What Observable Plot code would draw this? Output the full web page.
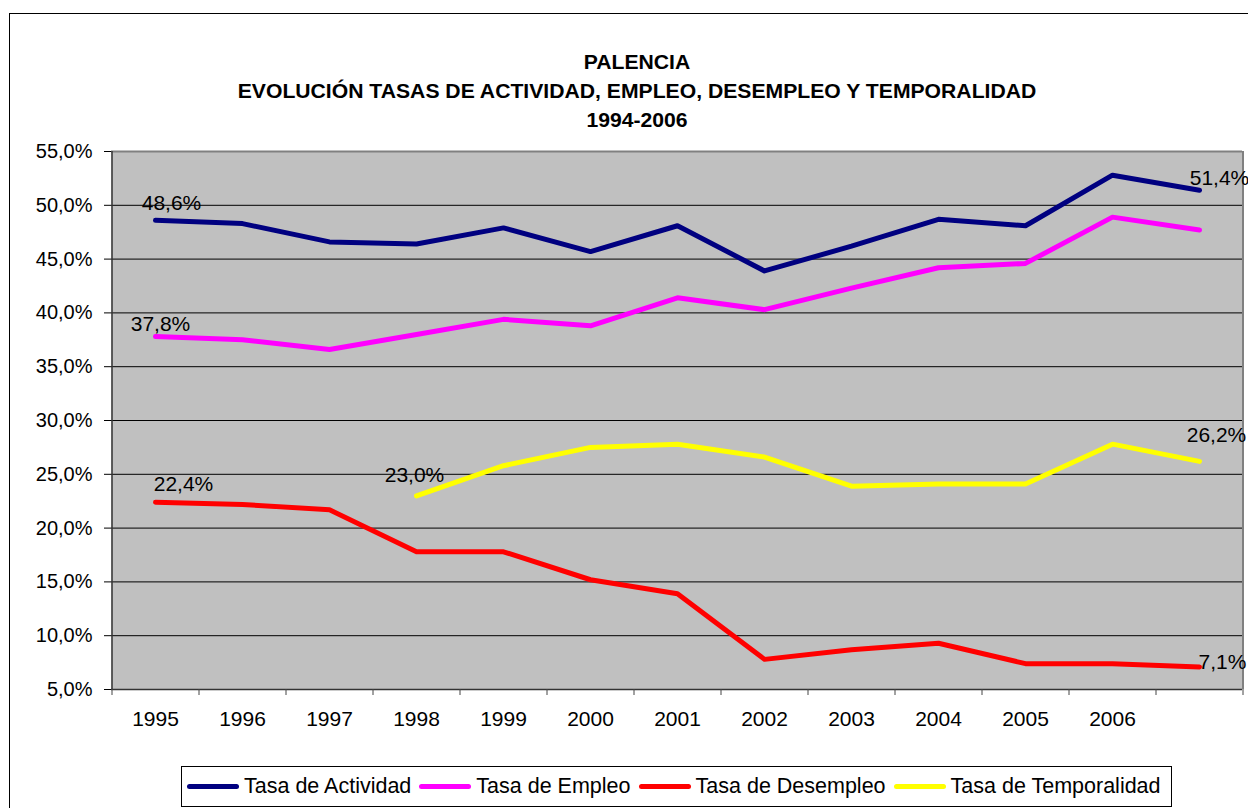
<!DOCTYPE html>
<html><head><meta charset="utf-8">
<script src="https://cdn.jsdelivr.net/npm/d3@7"></script>
<script src="https://cdn.jsdelivr.net/npm/@observablehq/plot@0.6"></script>
<style>
body{margin:0;background:#fff;font-family:"Liberation Sans",Arial,sans-serif;color:#000;}
#frame{position:absolute;left:9px;top:13px;width:1260px;height:820px;border:1px solid #000;box-sizing:border-box;}
#title{position:absolute;left:0;top:48px;width:1274px;text-align:center;font-weight:bold;font-size:19.5px;line-height:29px;transform:scaleX(1.085);transform-origin:637px 0;}
#chart{position:absolute;left:0;top:130px;}
#legend{position:absolute;left:181px;top:766px;width:991px;height:41px;border:1px solid #000;box-sizing:border-box;display:flex;align-items:center;padding-left:5px;font-size:21.5px;white-space:nowrap;}
.item{display:flex;align-items:center;margin-right:8px;}
.sw{width:52px;height:5px;border-radius:3px;margin-right:5px;}
</style></head><body>
<div id="frame"></div>
<div id="title">PALENCIA<br>EVOLUCIÓN TASAS DE ACTIVIDAD, EMPLEO, DESEMPLEO Y TEMPORALIDAD<br>1994-2006</div>
<div id="chart"></div>
<div id="legend"></div>
<script>
// Categories (13th category has an empty label)
const years = ["1995","1996","1997","1998","1999","2000","2001","2002","2003","2004","2005","2006",""];
const yTicks = [5,10,15,20,25,30,35,40,45,50,55];
const seriesNames = ["Tasa de Actividad","Tasa de Empleo","Tasa de Desempleo","Tasa de Temporalidad"];
const seriesColors = ["#000080","#FF00FF","#FF0000","#FFFF00"];
const actividad    = [48.6, 48.3, 46.6, 46.4, 47.9, 45.7, 48.1, 43.9, 46.2, 48.7, 48.1, 52.8, 51.4];
const empleo       = [37.8, 37.5, 36.6, 38.0, 39.4, 38.8, 41.4, 40.3, 42.3, 44.2, 44.6, 48.9, 47.7];
const desempleo    = [22.4, 22.2, 21.7, 17.8, 17.8, 15.2, 13.9, 7.8, 8.7, 9.3, 7.4, 7.4, 7.1];
const temporalidad = [null, null, null, 23.0, 25.8, 27.5, 27.8, 26.6, 23.9, 24.1, 24.1, 27.8, 26.2];

const allValues = [actividad, empleo, desempleo, temporalidad];
const rows = [];
seriesNames.forEach((name, s) => {
  allValues[s].forEach((v, i) => {
    if (v != null) rows.push({serie: name, year: years[i], idx: i, value: v});
  });
});
const pick = (name, i) => rows.filter(d => d.serie === name && d.idx === i);
const fmt = v => v.toFixed(1).replace(".", ",") + "%";

const W = 1248, H = 615, ML = 111, MR = 6, MT = 21, MB = 56;
const step = (W - ML - MR) / years.length;
const font = '"Liberation Sans", Arial, sans-serif';

const lab = (name, i, dx, dy) => Plot.text(pick(name, i), {
  x: "year", y: "value", text: d => fmt(d.value), dx, dy,
  fontSize: 21, fill: "#000", textAnchor: "middle"
});

const chart = Plot.plot({
  width: W, height: H,
  marginLeft: ML, marginRight: MR, marginTop: MT, marginBottom: MB,
  style: {fontFamily: font, fontSize: "20px", color: "#000", background: "transparent", overflow: "visible"},
  x: {type: "point", domain: years, padding: 0.5, label: null},
  y: {domain: [5, 55], label: null},
  color: {domain: seriesNames, range: seriesColors},
  marks: [
    Plot.frame({fill: "#C0C0C0", stroke: null}),
    Plot.gridY(yTicks.filter(t => t > 5 && t < 55), {stroke: "#000", strokeOpacity: 1, strokeWidth: 1}),
    Plot.ruleY([55], {stroke: "#808080", strokeWidth: 2}),
    Plot.ruleX([years[years.length - 1]], {dx: step / 2, stroke: "#808080", strokeWidth: 2}),
    Plot.ruleX([years[0]], {dx: -step / 2, stroke: "#333", strokeWidth: 1.5}),
    Plot.ruleY([5], {stroke: "#333", strokeWidth: 1.5}),
    Plot.axisY(yTicks, {tickSize: 7, tickPadding: 12, tickFormat: fmt, fontSize: 20, stroke: "#000", label: null}),
    Plot.axisX(years, {tickSize: 6, tickFormat: () => "", dx: -step / 2, stroke: "#444", label: null}),
    Plot.axisX([years[years.length - 1]], {tickSize: 6, tickFormat: () => "", dx: step / 2, stroke: "#444", label: null}),
    Plot.axisX(years, {tickSize: 0, tickPadding: 22, fontSize: 21, label: null}),
    Plot.lineY(rows, {x: "year", y: "value", z: "serie", stroke: "serie", strokeWidth: 5,
      strokeLinejoin: "round", strokeLinecap: "round"}),
    lab("Tasa de Actividad", 0, 16, -17),
    lab("Tasa de Actividad", 12, 20, -12),
    lab("Tasa de Empleo", 0, 5, -12),
    lab("Tasa de Desempleo", 0, 28, -18),
    lab("Tasa de Desempleo", 12, 23, -5),
    lab("Tasa de Temporalidad", 3, -2, -21),
    lab("Tasa de Temporalidad", 12, 17, -26)
  ]
});
document.getElementById("chart").appendChild(chart);

const legend = document.getElementById("legend");
seriesNames.forEach((name, s) => {
  const it = document.createElement("div");
  it.className = "item";
  const sw = document.createElement("div");
  sw.className = "sw";
  sw.style.background = seriesColors[s];
  const tx = document.createElement("span");
  tx.textContent = name;
  it.appendChild(sw); it.appendChild(tx);
  legend.appendChild(it);
});
</script>
</body></html>
